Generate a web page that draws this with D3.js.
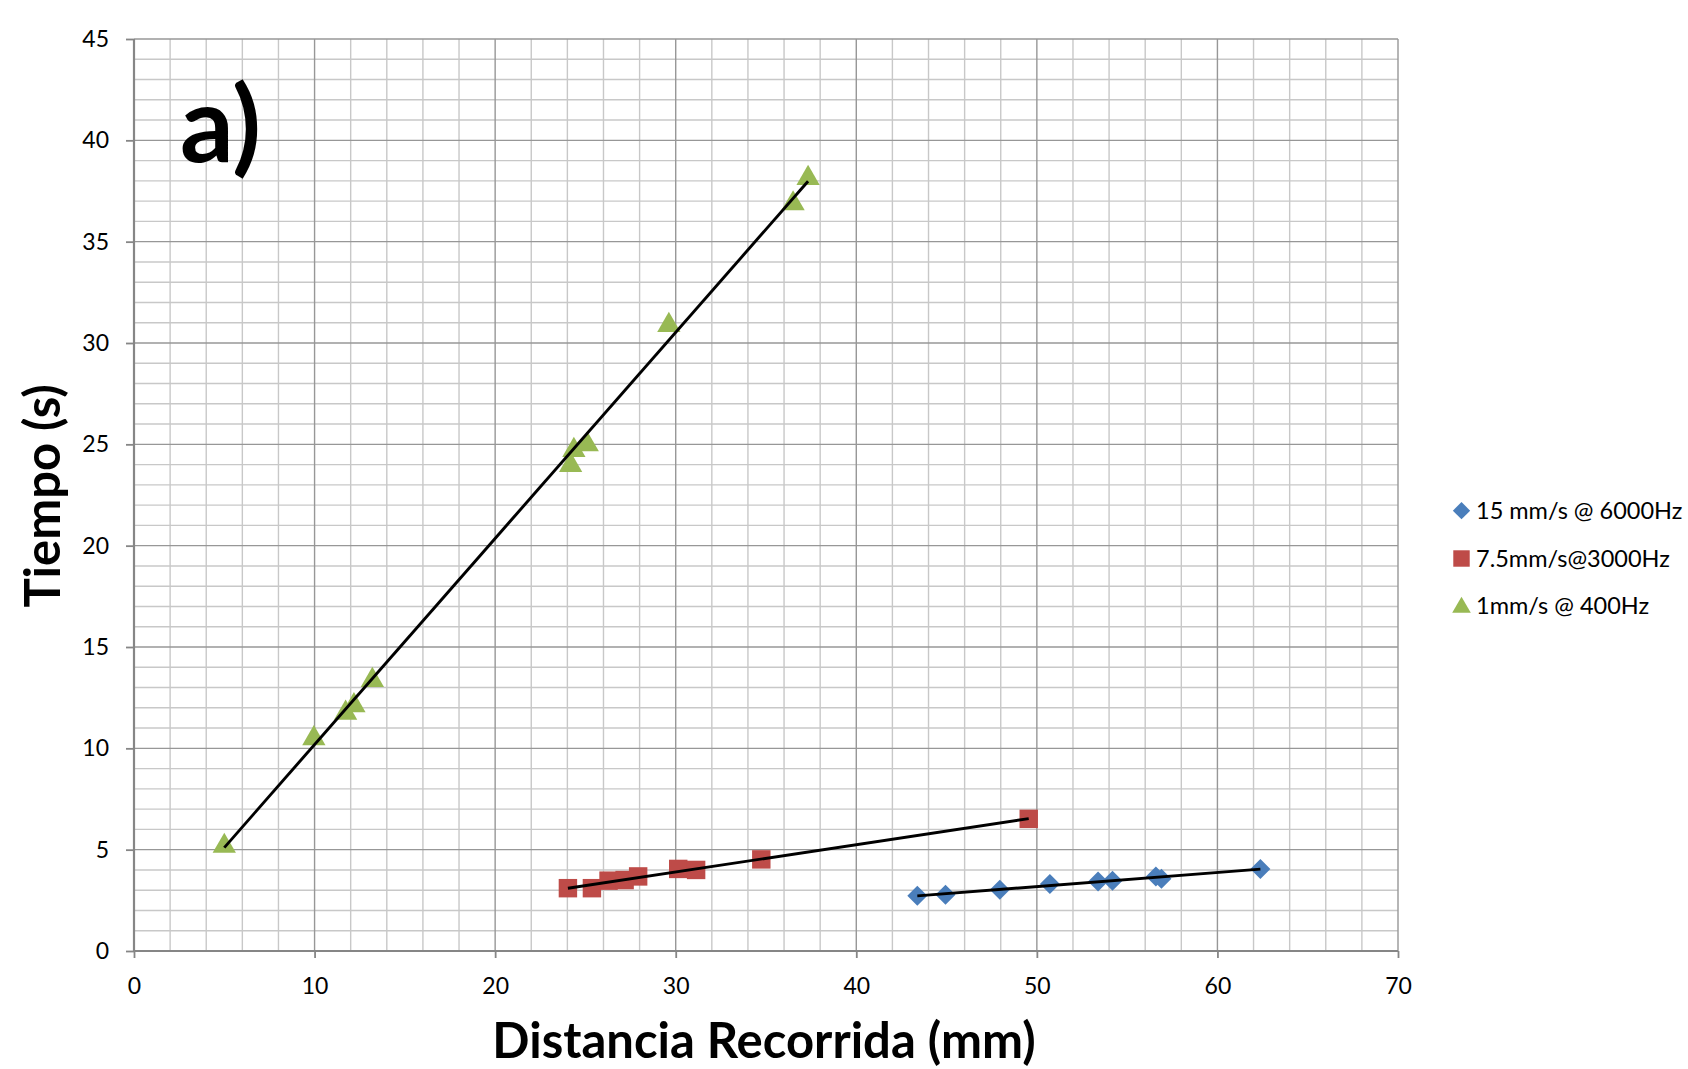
<!DOCTYPE html>
<html>
<head>
<meta charset="utf-8">
<script src="https://cdn.jsdelivr.net/npm/d3@7"></script>
<style>
  html, body { margin: 0; padding: 0; background: #fff; }
  svg { display: block; }
  text { font-family: Lato, "Open Sans", sans-serif; fill: #000; }
</style>
</head>
<body>
<svg id="chart" width="1688" height="1069"></svg>
<script>
// ---- Data ----
const blueX = [43.38, 44.94, 47.95, 50.72, 53.39, 54.19, 56.59, 56.9, 62.38];
const blueY = [2.73, 2.78, 3.02, 3.30, 3.43, 3.47, 3.68, 3.57, 4.04];
const redX = [24.03, 25.36, 26.28, 27.17, 27.92, 30.14, 31.13, 34.74, 49.55];
const redY = [3.1, 3.1, 3.47, 3.5, 3.68, 4.05, 4.0, 4.52, 6.52];
const greenX = [5.0, 9.96, 11.72, 12.18, 13.2, 24.18, 24.36, 25.1, 29.62, 36.5, 37.33];
const greenY = [5.25, 10.56, 11.82, 12.19, 13.43, 24.04, 24.78, 25.06, 30.95, 36.95, 38.2];
const seriesNames = ["15 mm/s @ 6000Hz", "7.5mm/s@3000Hz", "1mm/s @ 400Hz"];
const xTicks = [0, 10, 20, 30, 40, 50, 60, 70];
const yTicks = [0, 5, 10, 15, 20, 25, 30, 35, 40, 45];
const xTitle = "Distancia Recorrida (mm)";
const yTitle = "Tiempo (s)";
const panelLabel = "a)";

const colors = ["#4a7ebb", "#be4b48", "#98b954"];
const shapes = [d3.symbolSquare, d3.symbolSquare, d3.symbolTriangle];
const rotations = [45, 0, 0];

const series = [
  {name: seriesNames[0], x: blueX, y: blueY},
  {name: seriesNames[1], x: redX, y: redY},
  {name: seriesNames[2], x: greenX, y: greenY}
];

// ---- Layout ----
const svg = d3.select("#chart");
const x = d3.scaleLinear().domain([0, 70]).range([134, 1398]);
const y = d3.scaleLinear().domain([0, 45]).range([951, 39]);

// minor grid
const g = svg.append("g");
g.selectAll(".vminor").data(d3.range(2, 70, 2).filter(v => v % 10 !== 0)).join("line")
  .attr("x1", d => x(d)).attr("x2", d => x(d)).attr("y1", y(0)).attr("y2", y(45))
  .attr("stroke", "#c8c8c8").attr("stroke-width", 1.4);
g.selectAll(".hminor").data(d3.range(1, 45, 1).filter(v => v % 5 !== 0)).join("line")
  .attr("y1", d => y(d)).attr("y2", d => y(d)).attr("x1", x(0)).attr("x2", x(70))
  .attr("stroke", "#c8c8c8").attr("stroke-width", 1.4);
// major grid
g.selectAll(".vmajor").data(xTicks.slice(1)).join("line")
  .attr("x1", d => x(d)).attr("x2", d => x(d)).attr("y1", y(0)).attr("y2", y(45))
  .attr("stroke", "#979797").attr("stroke-width", 1.4);
g.selectAll(".hmajor").data(yTicks.slice(1)).join("line")
  .attr("y1", d => y(d)).attr("y2", d => y(d)).attr("x1", x(0)).attr("x2", x(70))
  .attr("stroke", "#979797").attr("stroke-width", 1.4);

// axes
const xAxis = d3.axisBottom(x).tickValues(xTicks).tickSize(7).tickPadding(12).tickFormat(d3.format("d"));
const yAxis = d3.axisLeft(y).tickValues(yTicks).tickSize(8).tickPadding(17).tickFormat(d3.format("d"));
const gx = svg.append("g").attr("transform", `translate(0,${y(0)})`).call(xAxis);
const gy = svg.append("g").attr("transform", `translate(${x(0)},0)`).call(yAxis);
[gx, gy].forEach(a => {
  a.select(".domain").attr("stroke", "#868686").attr("stroke-width", 2.2);
  a.selectAll(".tick line").attr("stroke", "#868686").attr("stroke-width", 1.8);
  a.selectAll(".tick text").attr("font-family", "Lato, sans-serif").attr("font-size", 23).attr("fill", "#000");
});
gx.select(".domain").attr("d", `M${x(0)},0H${x(70)}`);
gy.select(".domain").attr("d", `M0,${y(0)}V${y(45)}`);
gx.selectAll(".tick text").attr("dy", null).attr("y", 43);

// trendlines (least squares)
function fit(xs, ys) {
  const n = xs.length, mx = d3.mean(xs), my = d3.mean(ys);
  let sxy = 0, sxx = 0;
  for (let i = 0; i < n; i++) { sxy += (xs[i] - mx) * (ys[i] - my); sxx += (xs[i] - mx) ** 2; }
  const b = sxy / sxx, a = my - b * mx;
  const x0 = d3.min(xs), x1 = d3.max(xs);
  return [[x0, a + b * x0], [x1, a + b * x1]];
}
const line = d3.line().x(d => x(d[0])).y(d => y(d[1]));

// markers
const plotSizes = [200, 340, 235];
series.forEach((s, i) => {
  const sym = d3.symbol().type(shapes[i]).size(plotSizes[i]);
  svg.append("g").selectAll("path").data(s.x.map((v, j) => [v, s.y[j]])).join("path")
    .attr("d", sym)
    .attr("transform", d => `translate(${x(d[0])},${y(d[1]) + (i === 2 ? 1.5 : 0)}) rotate(${rotations[i]})`)
    .attr("fill", colors[i]);
});
series.forEach(s => {
  svg.append("path").datum(fit(s.x, s.y)).attr("d", line)
    .attr("fill", "none").attr("stroke", "#000").attr("stroke-width", 2.9);
});

// titles
svg.append("text").attr("x", 764).attr("y", 1058).attr("text-anchor", "middle")
  .attr("font-size", 49).attr("font-weight", "bold").text(xTitle);
svg.append("text").attr("transform", "translate(60,496) rotate(-90)").attr("text-anchor", "middle")
  .attr("font-size", 49).attr("font-weight", "bold").text(yTitle);
svg.append("text").attr("x", 180).attr("y", 162)
  .attr("font-size", 106).attr("font-weight", "bold").text(panelLabel);

// legend
const legY = [510.7, 558.5, 606];
const legSizes = [150, 270, 150];
series.forEach((s, i) => {
  const sym = d3.symbol().type(shapes[i]).size(legSizes[i]);
  svg.append("path").attr("d", sym)
    .attr("transform", `translate(1461.5,${legY[i] + (i === 2 ? 1.5 : 0)}) rotate(${rotations[i]})`)
    .attr("fill", colors[i]);
  svg.append("text").attr("x", 1476).attr("y", legY[i] + 8)
    .attr("font-size", 23.5).text(s.name);
});
</script>
</body>
</html>
